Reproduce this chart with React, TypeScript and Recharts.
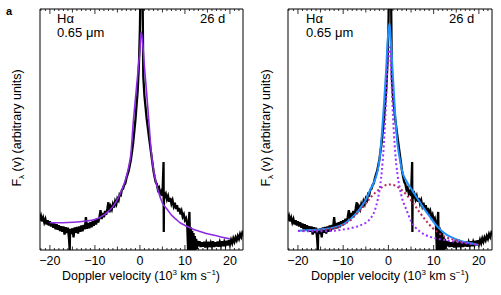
import { LineChart, Line, XAxis, YAxis, ReferenceArea } from "recharts"

// observed H-alpha profile, [velocity (1000 km/s), flux]
const spectrumPts: [number, number][] = [
  [-22.5, 15.0], [-22.25, 12.8], [-22.0, 14.2], [-21.75, 11.9], [-21.5, 13.4], [-21.25, 11.4],
  [-21.0, 12.8], [-20.75, 10.6], [-20.5, 12.3], [-20.25, 10.2], [-20.0, 11.9], [-19.75, 9.8],
  [-19.5, 11.5], [-19.25, 9.2], [-19.0, 11.0], [-18.75, 8.6], [-18.5, 10.7], [-18.25, 8.4],
  [-18.0, 10.3], [-17.75, 7.9], [-17.5, 9.9], [-17.25, 7.6], [-17.0, 9.8], [-16.75, 6.4],
  [-16.5, 9.5], [-16.25, 7.0], [-16.0, 9.3], [-15.75, 4.5], [-15.6, 0.0], [-15.5, 8.8],
  [-15.25, 6.6], [-15.0, 9.0], [-14.75, 5.2], [-14.5, 9.4], [-14.25, 7.2], [-14.0, 9.6],
  [-13.75, 6.8], [-13.5, 9.8], [-13.25, 7.6], [-13.0, 10.2], [-12.75, 7.8], [-12.5, 10.4],
  [-12.25, 8.6], [-12.0, 13.6], [-11.75, 8.8], [-11.5, 11.2], [-11.25, 9.0], [-11.0, 11.5],
  [-10.75, 9.4], [-10.5, 12.0], [-10.25, 10.0], [-10.0, 12.4], [-9.75, 10.6], [-9.5, 13.0],
  [-9.25, 11.4], [-9.0, 13.6], [-8.75, 16.5], [-8.5, 12.8], [-8.25, 15.4], [-8.0, 13.6],
  [-7.75, 16.2], [-7.5, 14.6], [-7.25, 17.0], [-7.0, 19.8], [-6.75, 15.6], [-6.5, 18.0],
  [-6.25, 16.8], [-6.0, 19.0], [-5.75, 17.6], [-5.5, 20.2], [-5.25, 19.0], [-5.0, 21.4],
  [-4.75, 20.6], [-4.5, 23.2], [-4.25, 22.8], [-4.0, 25.0], [-3.75, 25.4], [-3.5, 27.0],
  [-3.25, 27.6], [-3.0, 29.8], [-2.5, 32.8], [-2.0, 37.5], [-1.5, 44.5], [-1.0, 54.0],
  [-0.5, 66.0], [-0.2, 78.0], [0.0, 92.0], [0.15, 112], [0.3, 105], [0.45, 112],
  [0.6, 104], [0.75, 72.0], [1.0, 64.0], [1.5, 54.5], [2.0, 47.0], [2.5, 40.0],
  [3.0, 33.0], [3.25, 30.4], [3.5, 28.2], [3.75, 27.4], [4.0, 25.0], [4.25, 25.8],
  [4.5, 23.4], [4.75, 24.4], [5.0, 22.4], [5.25, 36.5], [5.3, 7.5], [5.35, 23.8],
  [5.5, 22.0], [5.75, 23.2], [6.0, 21.0], [6.25, 22.4], [6.5, 20.0], [6.75, 21.6],
  [7.0, 19.2], [7.25, 20.6], [7.5, 18.2], [7.75, 19.6], [8.0, 17.0], [8.25, 18.6],
  [8.5, 16.0], [8.75, 17.4], [9.0, 14.8], [9.25, 16.2], [9.5, 13.8], [9.75, 14.8],
  [10.0, 12.4], [10.25, 13.2], [10.5, 10.8], [10.7, 0.0], [10.85, 11.0], [11.0, 15.8],
  [11.15, 0.0], [11.3, 9.4], [11.45, 0.0], [11.6, 8.0], [11.75, 0.0], [11.9, 7.0],
  [12.05, 0.0], [12.2, 5.8], [12.35, 0.0], [12.5, 4.6], [12.65, 0.5], [12.8, 3.8],
  [13.0, 1.6], [13.25, 3.6], [13.5, 1.2], [13.75, 3.2], [14.0, 1.4], [14.25, 3.4],
  [14.5, 1.0], [14.75, 3.0], [15.0, 1.4], [15.25, 3.4], [15.5, 1.2], [15.75, 3.0],
  [16.0, 1.6], [16.25, 3.6], [16.5, 1.2], [16.75, 3.2], [17.0, 1.5], [17.25, 3.5],
  [17.5, 1.4], [17.75, 3.3], [18.0, 1.8], [18.25, 3.6], [18.5, 1.6], [18.75, 3.4],
  [19.0, 2.0], [19.25, 3.8], [19.5, 1.9], [19.75, 4.0], [20.0, 2.4], [20.25, 4.2],
  [20.5, 2.8], [20.75, 4.8], [21.0, 3.4], [21.25, 5.2], [21.5, 4.0], [21.75, 5.8],
  [22.0, 4.6], [22.25, 6.6], [22.5, 5.4], [22.75, 7.2], [23.0, 6.4],
]

// fit curves sampled on a common velocity grid
const fitV = [-20, -18, -16, -14, -12, -10, -9, -8, -7, -6, -5, -4, -3, -2.5, -2, -1.5, -1, -0.5, -0.25, 0,
  0.25, 0.5, 1, 1.5, 2, 2.5, 3, 4, 5, 6, 7, 8, 9, 10, 11, 12, 13, 14, 16, 18, 20]
// single lorentzian (left panel)
const lorentzF = [11.3, 11.3, 11.4, 11.6, 12.0, 12.7, 13.4, 14.6, 16.0, 18.0, 21.0, 25.0, 30.5, 34.5, 40.0, 52.5, 62.7, 72.7, 77.8, 82.8,
  90.5, 88.0, 76.0, 65.0, 53.0, 41.0, 33.5, 25.0, 19.5, 17.0, 14.5, 12.8, 11.2, 10.2, 9.3, 8.5, 7.9, 7.3, 6.3, 5.4, 4.6]
// two-component fit (right panel)
const totalF = [8.0, 8.2, 8.4, 8.7, 9.4, 10.6, 11.9, 13.5, 15.4, 18.0, 20.8, 25.0, 29.0, 32.0, 37.0, 47.0, 60.0, 75.0, 84.0, 91.0,
  94.0, 88.0, 72.0, 56.0, 44.0, 38.0, 33.0, 28.5, 25.5, 22.5, 19.7, 16.8, 14.2, 11.6, 9.4, 7.6, 6.2, 5.2, 3.8, 2.9, 2.1]
const narrowF = [7.9, 7.8, 7.7, 7.8, 8.0, 8.5, 8.8, 9.2, 9.7, 10.4, 11.3, 13.0, 16.5, 19.8, 24.5, 32.0, 44.0, 63.0, 75.0, 83.0,
  84.0, 78.0, 56.0, 40.5, 31.5, 25.7, 21.6, 16.6, 12.0, 9.3, 7.6, 6.4, 5.6, 5.0, 4.6, 4.3, 4.0, 3.7, 3.1, 2.6, 2.1]
const broadF = [7.9, 8.0, 8.2, 8.5, 9.0, 10.4, 11.5, 13.0, 15.0, 17.0, 19.3, 21.6, 23.6, 24.5, 25.3, 26.0, 26.6, 27.0, 27.1, 27.2,
  27.2, 27.1, 27.0, 26.7, 26.2, 25.6, 24.8, 22.9, 20.6, 18.0, 15.4, 12.9, 10.6, 8.7, 7.2, 6.0, 5.1, 4.5, 3.5, 2.7, 2.1]

const xTicks = [-22, -21, -20, -19, -18, -17, -16, -15, -14, -13, -12, -11, -10, -9, -8, -7, -6, -5, -4, -3, -2, -1, 0,
  1, 2, 3, 4, 5, 6, 7, 8, 9, 10, 11, 12, 13, 14, 15, 16, 17, 18, 19, 20, 21, 22]
const xDomain = [-22.2, 22.9]
const yDomain = [0, 100]

const spectrum = spectrumPts.map(([v, f]) => ({ v, f }))
const fits = fitV.map((v, i) => ({ v, lor: lorentzF[i], tot: totalF[i], nar: narrowF[i], bro: broadF[i] }))

const FONT = '"Liberation Sans", Arial, Helvetica, sans-serif'

function tickLen(v: number) {
  if (v % 10 === 0) return 5
  if (v % 5 === 0) return 3.5
  return 2
}

function BottomTick(props: any) {
  const { x, y, payload } = props
  const v = payload.value
  return (
    <g>
      <line x1={x} x2={x} y1={y} y2={y - tickLen(v)} stroke="#000" strokeWidth={0.8} />
      {v % 10 === 0 && (
        <text x={x} y={y + 15} textAnchor="middle" fontSize={12.5} fontFamily={FONT} fill="#000">
          {v < 0 ? `\u2212${-v}` : v}
        </text>
      )}
    </g>
  )
}

function TopTick(props: any) {
  const { x, y, payload } = props
  return <line x1={x} x2={x} y1={y} y2={y + tickLen(payload.value)} stroke="#000" strokeWidth={0.8} />
}

function Panel({ right }: { right: boolean }) {
  return (
    <LineChart width={right ? 251 : 250} height={295} margin={{ top: 8, right: right ? 9 : 7, bottom: 0, left: right ? 38 : 40 }}>
      <XAxis dataKey="v" type="number" domain={xDomain} allowDataOverflow ticks={xTicks} interval={0}
        tickLine={false} tickSize={0} tickMargin={0} tick={<BottomTick />} height={45} axisLine={false} />
      <XAxis xAxisId="top" orientation="top" dataKey="v" type="number" domain={xDomain} allowDataOverflow
        ticks={xTicks} interval={0} tickLine={false} tickSize={0} tickMargin={0} tick={<TopTick />} height={1}
        axisLine={false} />
      <YAxis type="number" domain={yDomain} allowDataOverflow hide width={0} />
      <Line data={spectrum} dataKey="f" type="linear" stroke="#000" strokeWidth={2.3} dot={false} isAnimationActive={false} />
      {!right && (
        <Line data={fits} dataKey="lor" type="monotone" stroke="#8a2be2" strokeWidth={1.6} dot={false} isAnimationActive={false} />
      )}
      {right && (
        <Line data={fits} dataKey="tot" type="monotone" stroke="#1e90ff" strokeWidth={2} dot={false} isAnimationActive={false} />
      )}
      {right && (
        <Line data={fits} dataKey="bro" type="monotone" stroke="#b8285a" strokeWidth={2} strokeDasharray="2 2.5"
          dot={false} isAnimationActive={false} />
      )}
      {right && (
        <Line data={fits} dataKey="nar" type="monotone" stroke="#9b30ff" strokeWidth={2} strokeDasharray="2 2.5"
          dot={false} isAnimationActive={false} />
      )}
      <ReferenceArea x1={xDomain[0]} x2={xDomain[1]} y1={yDomain[0]} y2={yDomain[1]} fill="none" stroke="#000"
        strokeWidth={1} ifOverflow="visible" />
    </LineChart>
  )
}

const txt: React.CSSProperties = { position: "absolute", fontFamily: FONT, fontSize: 13, color: "#000", whiteSpace: "nowrap", lineHeight: "13px" }

function Labels({ dx }: { dx: number }) {
  return (
    <>
      <div style={{ ...txt, left: 57 + dx, top: 12 }}>H&alpha;</div>
      <div style={{ ...txt, left: 57 + dx, top: 26 }}>0.65 &mu;m</div>
      <div style={{ ...txt, left: 200 + dx, top: 12 }}>26 d</div>
      <div style={{ ...txt, left: 19 + dx, top: 128, transform: "translate(-50%, -50%) rotate(-90deg)", fontSize: 12.5 }}>
        F<sub style={{ fontSize: 8, verticalAlign: "-3px" }}>&lambda;</sub> (v) (arbitrary units)
      </div>
      <div style={{ ...txt, left: 141 + dx, top: 274, transform: "translate(-50%, -50%)", fontSize: 12.5 }}>
        Doppler velocity (10<sup style={{ fontSize: 8, verticalAlign: "5px" }}>3</sup> km s
        <sup style={{ fontSize: 8, verticalAlign: "5px" }}>&minus;1</sup>)
      </div>
    </>
  )
}

export default function App() {
  return (
    <div style={{ position: "absolute", left: 0, top: 0, width: 501, height: 295, background: "#fff", overflow: "hidden" }}>
      <div style={{ position: "absolute", left: 0, top: 0 }}>
        <Panel right={false} />
      </div>
      <div style={{ position: "absolute", left: 250, top: 0 }}>
        <Panel right={true} />
      </div>
      <div style={{ ...txt, left: 6, top: 5, fontWeight: "bold", fontSize: 11 }}>a</div>
      <Labels dx={0} />
      <Labels dx={249} />
    </div>
  )
}
